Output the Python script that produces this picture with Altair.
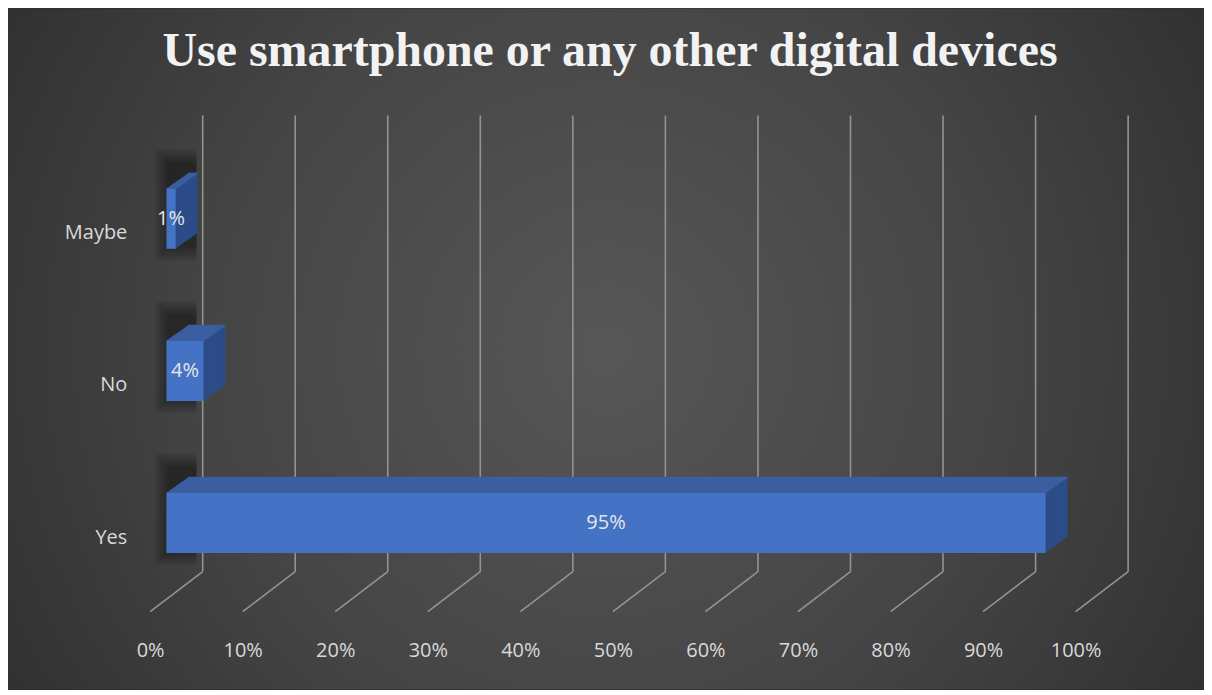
import altair as alt
import pandas as pd

# ---------------- data ----------------
categories = ["Maybe", "No", "Yes"]
shares = [0.01, 0.04, 0.95]
tick_values = [0.0, 0.1, 0.2, 0.3, 0.4, 0.5, 0.6, 0.7, 0.8, 0.9, 1.0]
title_text = "Use smartphone or any other digital devices"

# ---------------- geometry / style ----------------
W, H = 927, 457
PAD = {"left": 195, "top": 107, "right": 76, "bottom": 118}
FRONT_DX = -36.3      # front plane shift (px) relative to back wall
FRONT_DY = 27.5       # front face centre relative to band centre
BAR_H = 60
DEPTH_X, DEPTH_Y = 22.0, 15.5
N = 16
FLOOR_DX, FLOOR_DY = -52.6, 40

FRONT = "#4472C4"
TOP = "#3A5E9F"
SIDE = "#2C4C87"
GRID = "#939393"
LABEL = "#d9d9d9"

df = pd.DataFrame({"cat": categories, "share": shares})
ticks_df = pd.DataFrame({"t": tick_values})
one = pd.DataFrame({"title": [title_text]})

xs = alt.Scale(domain=[0, 1], nice=False)
ys = alt.Scale(domain=categories, paddingInner=0, paddingOuter=0)

AX = alt.Axis(values=tick_values, format=".0%", grid=False, domain=False, ticks=False,
              tickSize=0, labelOffset=FLOOR_DX, labelPadding=69, labelFont="Open Sans",
              labelFontSize=20, labelColor=LABEL, title=None, zindex=1,
              labelFlush=False, labelOverlap=False)
AY = alt.Axis(grid=False, domain=False, ticks=False, tickSize=0, labelOffset=42,
              labelPadding=76, labelFont="Open Sans", labelFontSize=20,
              labelColor=LABEL, title=None, zindex=1, labelAlign="right",
              labelBaseline="middle")


def xq(f):
    return alt.X(f, type="quantitative", scale=xs, axis=AX)


def yc():
    return alt.Y("cat:N", scale=ys, axis=AY, sort=categories)


gradient = alt.RadialGradient(
    gradient="radial",
    stops=[alt.GradientStop(color="#575757", offset=0),
           alt.GradientStop(color="#454545", offset=0.45),
           alt.GradientStop(color="#262626", offset=1)],
    x1=0.5, y1=0.5, r1=0, x2=0.5, y2=0.5, r2=0.72,
)

layers = []
layers.append(
    alt.Chart(one).mark_rect(fill=gradient).encode(
        x=alt.value(-PAD["left"]), x2=alt.value(W + PAD["right"]),
        y=alt.value(-PAD["top"]), y2=alt.value(H + PAD["bottom"]))
)
# title (as a text mark placed over the background)
layers.append(
    alt.Chart(one).mark_text(font="Liberation Serif", fontSize=48, fontWeight="bold",
                             color="#f2f2f2", align="center", baseline="alphabetic").encode(
        x=alt.value(408), y=alt.value(-49.5), text="title:N")
)
# back wall gridlines
layers.append(
    alt.Chart(ticks_df).mark_rule(color=GRID, strokeWidth=1.6).encode(
        x=xq("t"), y=alt.value(0), y2=alt.value(H))
)
# floor lines
layers.append(
    alt.Chart(ticks_df).mark_rule(color=GRID, strokeWidth=1.6, x2Offset=FLOOR_DX).encode(
        x=xq("t"), x2=alt.X2("t"), y=alt.value(H), y2=alt.value(H + FLOOR_DY))
)
# soft shadows at the left end of each bar
for e in range(14, -1, -2):
    layers.append(
        alt.Chart(df).transform_calculate(z="0").mark_bar(
            color="black", opacity=0.055, size=84 + 2 * e,
            xOffset=FRONT_DX + 2 - e, x2Offset=FRONT_DX + 30,
            yOffset=FRONT_DY - 14).encode(x=xq("z:Q"), x2=alt.X2("z"), y=yc())
    )
# extruded depth (side colour)
for k in range(N, 0, -1):
    off_x = FRONT_DX + k * DEPTH_X / N
    off_y = FRONT_DY - k * DEPTH_Y / N
    layers.append(
        alt.Chart(df).mark_bar(color=SIDE, size=BAR_H, xOffset=off_x, x2Offset=off_x,
                               yOffset=off_y).encode(x=xq("share"), y=yc())
    )
# top face
for k in range(N + 1):
    off_x = FRONT_DX + k * DEPTH_X / N
    off_y = FRONT_DY - BAR_H / 2 - k * DEPTH_Y / N
    layers.append(
        alt.Chart(df).mark_bar(color=TOP, size=1.7, xOffset=off_x, x2Offset=off_x,
                               yOffset=off_y).encode(x=xq("share"), y=yc())
    )
# front face
layers.append(
    alt.Chart(df).mark_bar(color=FRONT, size=BAR_H, xOffset=FRONT_DX, x2Offset=FRONT_DX,
                           yOffset=FRONT_DY).encode(x=xq("share"), y=yc())
)
# data labels
layers.append(
    alt.Chart(df).transform_calculate(mid="datum.share / 2").mark_text(
        font="Open Sans", fontSize=20, color="#e6e6e6", dx=FRONT_DX, dy=FRONT_DY,
        align="center", baseline="middle").encode(
        x=xq("mid:Q"), y=yc(), text=alt.Text("share:Q", format=".0%"))
)

chart = alt.layer(*layers).properties(
    width=W, height=H,
    autosize=alt.AutoSizeParams(type="none"),
    padding=PAD,
    background="#2b2b2b",
).configure_view(stroke=None)

chart.save("out.html", embed_options={"renderer": "svg", "actions": False})
